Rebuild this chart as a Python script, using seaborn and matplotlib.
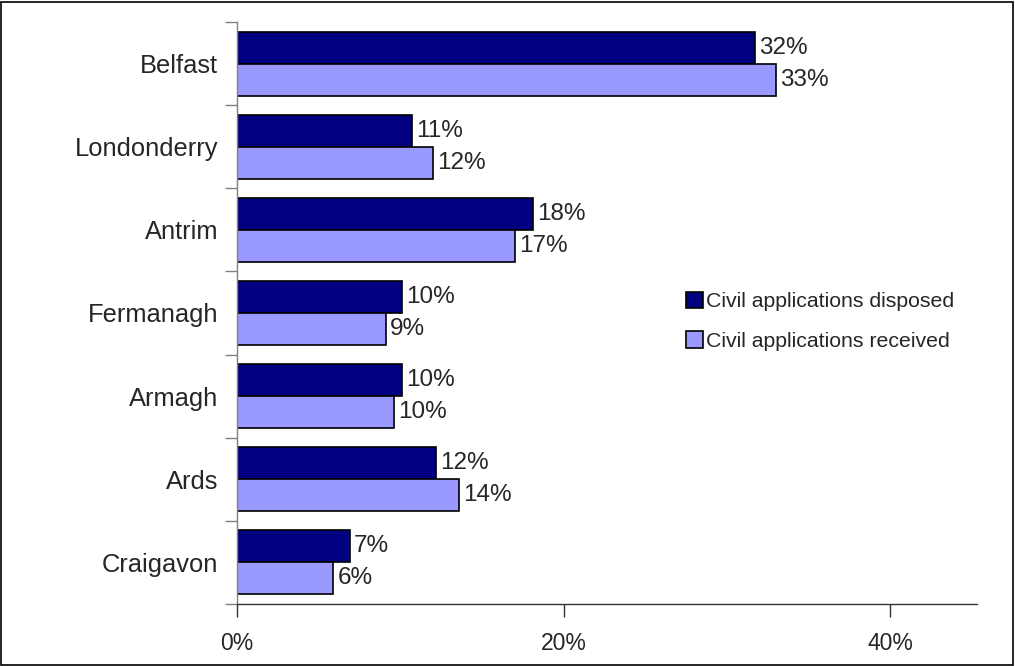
import matplotlib
matplotlib.use("Agg")
import matplotlib.pyplot as plt
import seaborn as sns
import pandas as pd
import numpy as np
from matplotlib.patches import Patch, Rectangle
from matplotlib.ticker import FixedLocator

categories = ["Belfast", "Londonderry", "Antrim", "Fermanagh", "Armagh", "Ards", "Craigavon"]
disposed = [31.7, 10.7, 18.1, 10.1, 10.1, 12.2, 6.9]
received = [33.0, 12.0, 17.0, 9.1, 9.6, 13.6, 5.9]
disposed_labels = ["32%", "11%", "18%", "10%", "10%", "12%", "7%"]
received_labels = ["33%", "12%", "17%", "9%", "10%", "14%", "6%"]
series_names = ["Civil applications disposed", "Civil applications received"]
colors = ["#000080", "#9999FF"]
xticks = [0, 20, 40]
xtick_labels = ["0%", "20%", "40%"]

df = pd.DataFrame({
    "Court": categories * 2,
    "Value": disposed + received,
    "Series": [series_names[0]] * len(categories) + [series_names[1]] * len(categories),
})

sns.set_style("white")
plt.rcParams["font.family"] = ["Liberation Sans", "DejaVu Sans"]

fig = plt.figure(figsize=(10.15, 6.66), dpi=100)
ax = fig.add_axes([0.2335, 0.0931, 0.9626 - 0.2335, 0.967 - 0.0931])

sns.barplot(data=df, x="Value", y="Court", hue="Series", order=categories,
            hue_order=series_names, palette=colors, orient="h", width=0.77,
            edgecolor="black", linewidth=1.2, saturation=1, ax=ax, legend=False)

for cont, labs in zip(ax.containers, [disposed_labels, received_labels]):
    ax.bar_label(cont, labels=labs, padding=3, fontsize=17.5)

ax.set_xlim(0, 45.3)
ax.set_ylim(len(categories) - 0.5, -0.5)
ax.set_xlabel("")
ax.set_ylabel("")
ax.set_xticks(xticks)
ax.set_xticklabels(xtick_labels, fontsize=16.5)
ax.tick_params(axis="x", direction="out", length=9, width=1, color="#333333", pad=11, bottom=True)
ax.tick_params(axis="y", which="major", length=0, pad=13.5, labelsize=18.4)
ax.yaxis.set_minor_locator(FixedLocator(np.arange(-0.5, len(categories), 1.0)))
ax.tick_params(axis="y", which="minor", direction="out", length=9, width=1, color="#808080", left=True)

for s in ["top", "right"]:
    ax.spines[s].set_visible(False)
ax.spines["left"].set_color("#808080")
ax.spines["bottom"].set_color("#333333")
ax.spines["left"].set_linewidth(1)
ax.spines["bottom"].set_linewidth(1)

handles = [Patch(facecolor=c, edgecolor="black", linewidth=1.2) for c in colors]
leg = fig.legend(handles, series_names, loc="upper left", bbox_to_anchor=(0.676, 0.562),
                 bbox_transform=fig.transFigure, frameon=False, fontsize=15.3,
                 handlelength=0.8, handleheight=0.8, handletextpad=0.12,
                 labelspacing=0.95, borderpad=0, borderaxespad=0)

fig.patches.append(Rectangle((0.001, 0.0015), 0.997, 0.996, transform=fig.transFigure,
                             fill=False, edgecolor="black", linewidth=1.2))

fig.savefig("out.png", dpi=100)
